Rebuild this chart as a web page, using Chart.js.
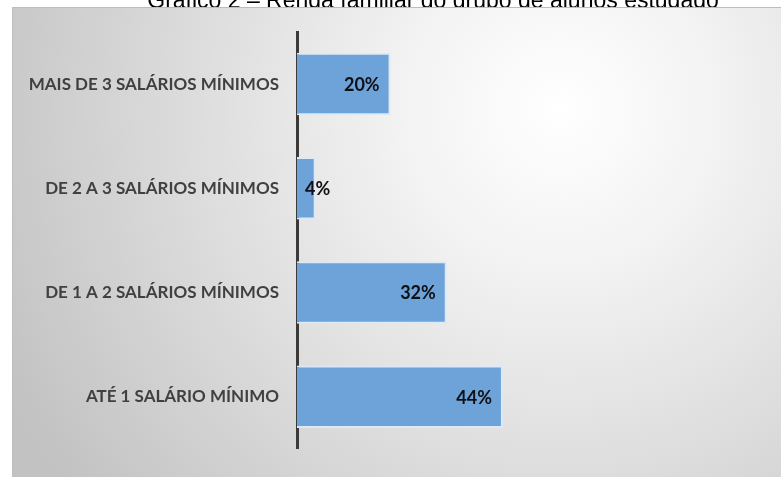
<!DOCTYPE html>
<html lang="pt-BR">
<head>
<meta charset="utf-8">
<title>Renda familiar do grupo de alunos</title>
<script src="https://cdn.jsdelivr.net/npm/chart.js@4.4.1/dist/chart.umd.min.js"></script>
<style>
  html, body { margin: 0; padding: 0; background: #fff; }
  #wrap { width: 781px; height: 477px; }
</style>
</head>
<body>
<div id="wrap"><canvas id="rendaChart" width="781" height="477"></canvas></div>
<script>
// dados do gráfico (de cima para baixo)
const tituloGrafico = 'Gráfico 2 – Renda familiar do grupo de alunos estudado';
const faixasRenda = [
  'MAIS DE 3 SALÁRIOS MÍNIMOS',
  'DE 2 A 3 SALÁRIOS MÍNIMOS',
  'DE 1 A 2 SALÁRIOS MÍNIMOS',
  'ATÉ 1 SALÁRIO MÍNIMO'
];
const percentuais = [20, 4, 32, 44];
const escalaMax = 100;

// fundo cinza com brilho claro em cima à direita + título (cortado pelo painel)
const fundoPainel = {
  id: 'fundoPainel',
  beforeDraw(chart) {
    const ctx = chart.ctx;
    ctx.save();
    ctx.fillStyle = '#ffffff';
    ctx.fillRect(0, 0, chart.width, chart.height);

    ctx.fillStyle = '#000';
    ctx.font = '23px "Liberation Sans", Arial, sans-serif';
    ctx.textAlign = 'center';
    ctx.textBaseline = 'alphabetic';
    ctx.fillText(tituloGrafico, 433, 8);

    const g = ctx.createRadialGradient(560, 110, 0, 560, 110, 620);
    g.addColorStop(0, '#ffffff');
    g.addColorStop(0.25, '#f3f3f3');
    g.addColorStop(1, '#c2c2c2');
    ctx.fillStyle = g;
    ctx.fillRect(12, 7, chart.width - 12, chart.height - 7);

    ctx.strokeStyle = '#bdbdbd';
    ctx.lineWidth = 1;
    ctx.beginPath();
    ctx.moveTo(12.5, chart.height);
    ctx.lineTo(12.5, 7.5);
    ctx.lineTo(chart.width, 7.5);
    ctx.stroke();
    ctx.restore();
  }
};

// rótulos de valor perto do fim de cada barra
const rotulosValor = {
  id: 'rotulosValor',
  afterDatasetsDraw(chart) {
    const ctx = chart.ctx;
    const meta = chart.getDatasetMeta(0);
    ctx.save();
    ctx.font = 'bold 18px Lato, sans-serif';
    ctx.fillStyle = '#0f0f14';
    ctx.textAlign = 'right';
    ctx.textBaseline = 'middle';
    meta.data.forEach(function (bar, i) {
      const txt = percentuais[i] + '%';
      const w = ctx.measureText(txt).width;
      const xDir = Math.max(bar.x - 11, bar.base + 8 + w);
      ctx.fillText(txt, xDir, bar.y + 1);
    });
    ctx.restore();
  }
};

const ctx = document.getElementById('rendaChart').getContext('2d');
new Chart(ctx, {
  type: 'bar',
  data: {
    labels: faixasRenda,
    datasets: [{
      label: 'Renda familiar',
      data: percentuais,
      backgroundColor: '#6da3d9',
      borderColor: '#dce9f6',
      borderWidth: 2,
      borderSkipped: 'start',
      barPercentage: 0.6,
      categoryPercentage: 1
    }]
  },
  options: {
    indexAxis: 'y',
    responsive: false,
    animation: false,
    devicePixelRatio: 1,
    layout: { padding: { left: 0, top: 32, right: 16, bottom: 18 } },
    plugins: {
      legend: { display: false },
      tooltip: { enabled: false },
      title: { display: false }
    },
    scales: {
      x: {
        display: false,
        min: 0,
        max: escalaMax
      },
      y: {
        z: 1,
        afterFit: function (scale) { scale.width = 297; },
        grid: { display: false, drawTicks: false },
        border: { display: true, color: '#3a3a3a', width: 3 },
        ticks: {
          color: '#404040',
          padding: 18,
          font: { family: 'Lato, sans-serif', size: 17, weight: 'bold' }
        }
      }
    }
  },
  plugins: [fundoPainel, rotulosValor]
});
</script>
</body>
</html>
